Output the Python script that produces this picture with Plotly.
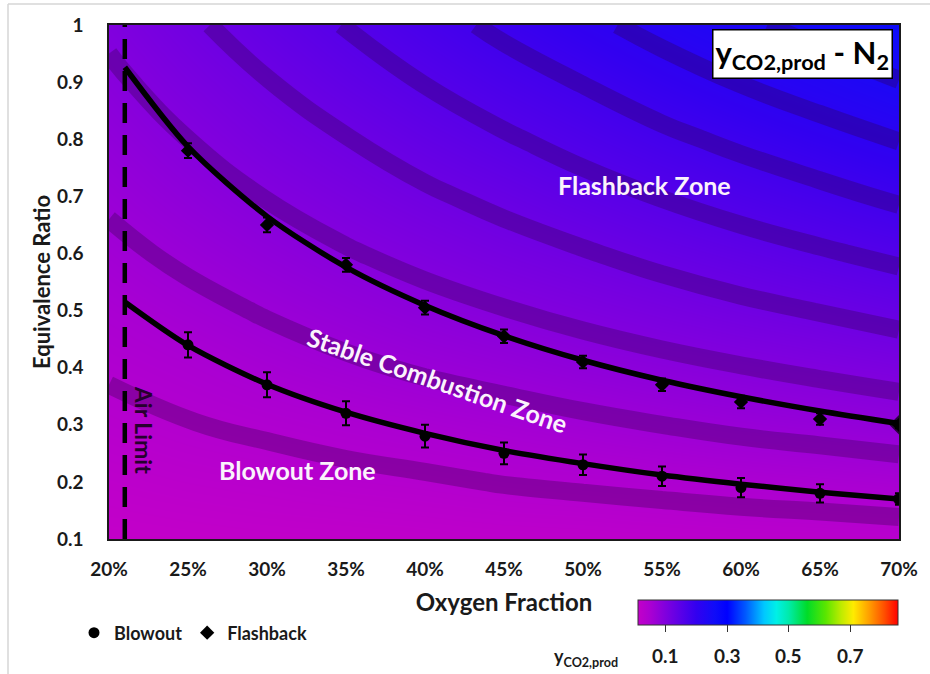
import plotly.graph_objects as go

# ---- measured stability limits ----
oxygen = [0.25, 0.30, 0.35, 0.40, 0.45, 0.50, 0.55, 0.60, 0.65, 0.70]
blowout_phi = [0.44, 0.37, 0.32, 0.28, 0.25, 0.23, 0.21, 0.19, 0.18, 0.17]
blowout_err = [0.022, 0.022, 0.021, 0.020, 0.019, 0.018, 0.017, 0.017, 0.016, 0.010]
flashback_phi = [0.78, 0.65, 0.58, 0.505, 0.455, 0.41, 0.37, 0.34, 0.31, 0.30]
flashback_err = [0.013, 0.013, 0.012, 0.012, 0.012, 0.011, 0.011, 0.011, 0.010, 0.006]

# ---- power-law trend lines, starting at the air limit ----
air_limit = 0.21
trend_o2 = [0.21, 0.25, 0.30, 0.35, 0.40, 0.45, 0.50, 0.55, 0.60, 0.65, 0.70]
blowout_trend = [0.515, 0.439, 0.371, 0.322, 0.285, 0.255, 0.232, 0.212, 0.196, 0.182, 0.170]
flashback_trend = [0.926, 0.787, 0.665, 0.576, 0.509, 0.456, 0.413, 0.378, 0.349, 0.324, 0.302]

# ---- product CO2 mole fraction field ----
grid_o2 = [0.20, 0.25, 0.30, 0.35, 0.40, 0.45, 0.50, 0.55, 0.60, 0.65, 0.70]
grid_phi = [0.1, 0.2, 0.3, 0.4, 0.5, 0.6, 0.7, 0.8, 0.9, 1.0]
y_co2 = [
    [0.010, 0.012, 0.014, 0.015, 0.017, 0.019, 0.020, 0.022, 0.024, 0.025, 0.027],
    [0.020, 0.024, 0.027, 0.031, 0.034, 0.038, 0.041, 0.044, 0.047, 0.050, 0.053],
    [0.030, 0.036, 0.041, 0.046, 0.051, 0.056, 0.061, 0.066, 0.071, 0.075, 0.080],
    [0.040, 0.047, 0.055, 0.062, 0.069, 0.075, 0.082, 0.088, 0.094, 0.100, 0.106],
    [0.050, 0.059, 0.068, 0.077, 0.086, 0.094, 0.102, 0.110, 0.118, 0.125, 0.133],
    [0.060, 0.071, 0.082, 0.093, 0.103, 0.113, 0.122, 0.132, 0.141, 0.150, 0.159],
    [0.070, 0.083, 0.096, 0.108, 0.120, 0.131, 0.143, 0.154, 0.165, 0.175, 0.186],
    [0.080, 0.095, 0.110, 0.123, 0.137, 0.150, 0.163, 0.176, 0.188, 0.200, 0.212],
    [0.090, 0.107, 0.123, 0.139, 0.154, 0.169, 0.183, 0.198, 0.212, 0.225, 0.239],
    [0.100, 0.119, 0.137, 0.154, 0.171, 0.188, 0.204, 0.220, 0.235, 0.250, 0.265],
]
iso_start, iso_step = 0.037, 0.029
cbar_ticks = [0.1, 0.3, 0.5, 0.7]
z_lo, z_hi = 0.01, 0.855

palette = [
    (0.01, "rgb(195,0,200)"),
    (0.05, "rgb(170,0,210)"),
    (0.10, "rgb(128,0,222)"),
    (0.15, "rgb(88,0,232)"),
    (0.20, "rgb(50,0,240)"),
    (0.26, "rgb(15,12,248)"),
    (0.30, "rgb(0,0,255)"),
    (0.36, "rgb(0,90,255)"),
    (0.42, "rgb(0,200,255)"),
    (0.46, "rgb(0,240,230)"),
    (0.50, "rgb(0,235,170)"),
    (0.56, "rgb(0,220,40)"),
    (0.62, "rgb(90,230,0)"),
    (0.67, "rgb(190,235,0)"),
    (0.71, "rgb(255,235,0)"),
    (0.76, "rgb(255,160,0)"),
    (0.81, "rgb(255,80,0)"),
    (0.855, "rgb(255,0,0)"),
]
colorscale = [[(v - z_lo) / (z_hi - z_lo), c] for v, c in palette]

FONT = "Lato"
INK = "#1a1a1a"

# plot-area geometry in pixels (for paper-coordinate placement)
PL, PR, PT, PB = 109, 899, 25, 539
PW, PH = PR - PL, PB - PT


def px_x(p):
    return (p - PL) / PW


def px_y(p):
    return (PB - p) / PH


CB_LEFT, CB_LEN = 638, 260

fig = go.Figure()

# colour field
fig.add_trace(go.Contour(
    x=grid_o2, y=grid_phi, z=y_co2,
    zmin=z_lo, zmax=z_hi, colorscale=colorscale,
    contours=dict(coloring="heatmap", showlines=False, start=0, end=1, size=1),
    line=dict(width=0),
    hoverinfo="skip", showlegend=False,
    colorbar=dict(
        orientation="h", lenmode="pixels", len=CB_LEN, thickness=25,
        x=px_x(CB_LEFT), xanchor="left", y=px_y(600), yanchor="top",
        xpad=0, ypad=0,
        outlinecolor="#333333", outlinewidth=1,
        tickvals=cbar_ticks, showticklabels=False,
        ticks="outside", ticklen=7, tickcolor="#333333",
    ),
))

# darker iso-lines of the same field
fig.add_trace(go.Contour(
    x=grid_o2, y=grid_phi, z=y_co2,
    contours=dict(coloring="none", start=iso_start, end=0.27, size=iso_step),
    line=dict(color="rgba(45,0,70,0.30)", width=18, smoothing=1.3),
    showscale=False, hoverinfo="skip", showlegend=False,
))

# trend curves
for trend in (blowout_trend, flashback_trend):
    fig.add_trace(go.Scatter(
        x=trend_o2, y=trend, mode="lines",
        line=dict(color="black", width=5.5, shape="spline", smoothing=0.8),
        hoverinfo="skip", showlegend=False,
    ))

# measured points with error bars
fig.add_trace(go.Scatter(
    x=oxygen, y=blowout_phi, name="Blowout", mode="markers",
    marker=dict(symbol="circle", color="black", size=11, line=dict(width=0)),
    error_y=dict(type="data", array=blowout_err, color="black", thickness=2, width=4),
))
fig.add_trace(go.Scatter(
    x=oxygen, y=flashback_phi, name="Flashback", mode="markers",
    marker=dict(symbol="diamond", color="black", size=11, line=dict(width=0)),
    error_y=dict(type="data", array=flashback_err, color="black", thickness=2, width=4),
))
# heavier end markers at the highest oxygen fraction
fig.add_trace(go.Scatter(
    x=[oxygen[-1], oxygen[-1]], y=[blowout_phi[-1], flashback_phi[-1]], mode="markers",
    marker=dict(symbol=["circle", "diamond"], color="black", size=[12, 15], line=dict(width=0)),
    hoverinfo="skip", showlegend=False,
))

# air limit
fig.add_shape(type="line", xref="x", yref="y", x0=air_limit, x1=air_limit, y0=0.1, y1=1.0,
              line=dict(color="black", width=4.5, dash="20px,12px"))

# light frame around the whole figure
fig.add_shape(type="line", xref="paper", yref="paper",
              x0=px_x(8), x1=px_x(930), y0=px_y(4), y1=px_y(4),
              line=dict(color="#d6d6d6", width=1.5))
fig.add_shape(type="line", xref="paper", yref="paper",
              x0=px_x(8), x1=px_x(8), y0=px_y(4), y1=px_y(674),
              line=dict(color="#d6d6d6", width=1.5))

label_white = "#fbf2fc"
fig.add_annotation(x=0.539, y=0.72, text="Flashback Zone", showarrow=False,
                   font=dict(family=FONT, size=25, color=label_white, weight="bold"))
fig.add_annotation(x=0.408, y=0.378, text="Stable Combustion Zone", showarrow=False, textangle=19,
                   font=dict(family=FONT, size=25, color=label_white, weight="bold"))
fig.add_annotation(x=0.319, y=0.221, text="Blowout Zone", showarrow=False,
                   font=dict(family=FONT, size=25, color=label_white, weight="bold"))
fig.add_annotation(x=0.2222, y=0.291, text="Air Limit", showarrow=False, textangle=90,
                   font=dict(family=FONT, size=23, color="#26002e", weight="bold"))

fig.add_annotation(xref="paper", yref="paper", x=px_x(893), y=px_y(29),
                   xanchor="right", yanchor="top", showarrow=False,
                   text="y<sub>CO2,prod</sub> - N<sub>2</sub>",
                   font=dict(family=FONT, size=31, color="black", weight="bold"),
                   bgcolor="white", bordercolor="black", borderwidth=1.5, borderpad=2)

# colour-bar labels
fig.add_annotation(xref="paper", yref="paper", x=px_x(586), y=px_y(657),
                   xanchor="center", yanchor="middle",
                   showarrow=False, text="y<sub>CO2,prod</sub>",
                   font=dict(family=FONT, size=18, color=INK, weight="bold"))
for t in cbar_ticks:
    fig.add_annotation(xref="paper", yref="paper",
                       x=px_x(CB_LEFT + (t - z_lo) / (z_hi - z_lo) * CB_LEN), y=px_y(655),
                       xanchor="center", yanchor="middle",
                       showarrow=False, text=f"{t:.1f}",
                       font=dict(family=FONT, size=19, color=INK, weight="bold"))

grid_col = "rgba(255,235,255,0.75)"
fig.update_xaxes(
    range=[0.2, 0.7], dtick=0.05, tick0=0.2, tickformat=".0%",
    showgrid=True, gridcolor=grid_col, gridwidth=1.5,
    showline=True, linecolor=INK, linewidth=1.5, mirror=True,
    ticks="", ticklabelstandoff=12,
    tickfont=dict(family=FONT, size=19, color=INK, weight="bold"),
    title=dict(text="Oxygen Fraction", standoff=16,
               font=dict(family=FONT, size=24, color=INK, weight="bold")),
    zeroline=False,
)
fig.update_yaxes(
    range=[0.1, 1.0], dtick=0.1, tick0=0.1,
    showgrid=True, gridcolor=grid_col, gridwidth=1.5,
    showline=True, linecolor=INK, linewidth=1.5, mirror=True,
    ticks="", ticklabelstandoff=20,
    tickfont=dict(family=FONT, size=19, color=INK, weight="bold"),
    title=dict(text="Equivalence Ratio", standoff=0,
               font=dict(family=FONT, size=22, color=INK, weight="bold")),
    zeroline=False,
)

fig.update_layout(
    width=930, height=674,
    margin=dict(l=PL, r=930 - PR, t=PT, b=674 - PB),
    paper_bgcolor="white", plot_bgcolor="white",
    showlegend=True,
    legend=dict(orientation="h", x=px_x(74), xanchor="left",
                y=px_y(633), yanchor="middle",
                font=dict(family=FONT, size=18, color=INK, weight="bold"),
                bgcolor="rgba(0,0,0,0)"),
)

fig.write_html("out.html")
